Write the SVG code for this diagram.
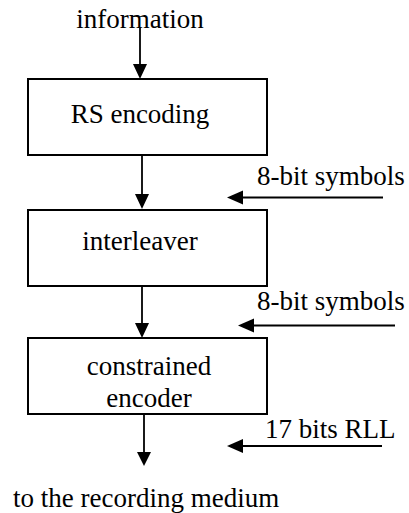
<svg xmlns="http://www.w3.org/2000/svg" width="409" height="513" viewBox="0 0 409 513">
<style>
text{font-family:"Liberation Serif","Times New Roman","DejaVu Serif",serif;font-size:27px;fill:#000}
.box{fill:#fff;stroke:#000;stroke-width:2}
.ln{stroke:#000;stroke-width:1.8;fill:none}
.hd{fill:#000}
</style>
<rect width="409" height="513" fill="#fff"/>
<g id="connectors">
<line class="ln" x1="140" y1="28" x2="140" y2="66"/>
<polygon class="hd" points="133,64 147,64 140,79"/>
<line class="ln" x1="142" y1="155" x2="142" y2="196"/>
<polygon class="hd" points="135,194 149,194 142,209"/>
<line class="ln" x1="142" y1="286" x2="142" y2="325"/>
<polygon class="hd" points="135,323 149,323 142,338"/>
<line class="ln" x1="144" y1="414" x2="144" y2="454"/>
<polygon class="hd" points="137,452 151,452 144,466"/>
<line class="ln" x1="383" y1="197.5" x2="240" y2="197.5"/>
<polygon class="hd" points="243,190.5 243,204.5 227,197.5"/>
<line class="ln" x1="395" y1="325.5" x2="251" y2="325.5"/>
<polygon class="hd" points="254,318.5 254,332.5 238,325.5"/>
<line class="ln" x1="382" y1="446" x2="240" y2="446"/>
<polygon class="hd" points="243,439 243,453 227,446"/>
</g>
<g id="information"><text x="140" y="27.5" text-anchor="middle" font-family="Liberation Serif, serif">information</text></g>
<g id="rs"><rect class="box" x="28" y="79" width="239" height="76"/><text x="140" y="123" text-anchor="middle">RS encoding</text></g>
<g id="interleaver"><rect class="box" x="28" y="210" width="239" height="76"/><text x="140" y="250" text-anchor="middle">interleaver</text></g>
<g id="constrained"><rect class="box" x="28" y="338" width="239" height="76"/><text x="149" y="375" text-anchor="middle">constrained</text><text x="149" y="407" text-anchor="middle">encoder</text></g>
<g id="labels">
<text x="257" y="185">8-bit symbols</text>
<text x="257" y="310">8-bit symbols</text>
<text x="265" y="438">17 bits RLL</text>
<text x="13" y="507">to the recording medium</text>
</g>
</svg>
